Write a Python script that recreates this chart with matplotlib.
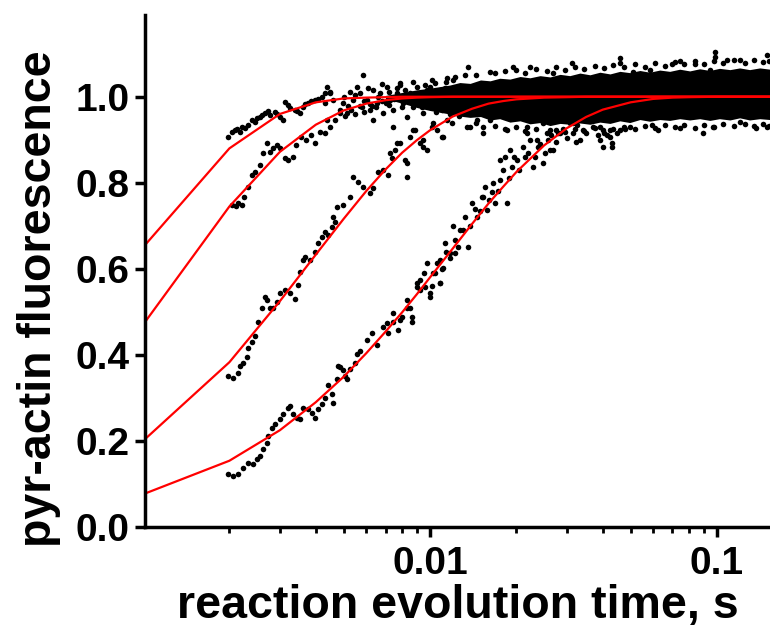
import matplotlib
matplotlib.use("Agg")
import matplotlib.pyplot as plt
import numpy as np
from matplotlib.ticker import LogLocator, NullFormatter

plt.rcParams["font.family"] = ["Liberation Sans", "DejaVu Sans"]
plt.rcParams["font.weight"] = "bold"

# 时间单位：ms；荧光：归一化
trace1_t = [1.98, 2.04, 2.09, 2.12, 2.18, 2.22, 2.27, 2.32, 2.40, 2.46, 2.50, 2.56, 2.60, 2.66, 2.72,
            2.77, 2.88, 2.94, 3.00, 3.07, 3.13, 3.20, 3.25, 3.39, 3.45, 3.52, 3.60, 3.68, 3.75, 3.85,
            3.98, 4.07, 4.20, 4.31, 4.48]
trace1_v = [0.907, 0.918, 0.923, 0.925, 0.918, 0.930, 0.928, 0.935, 0.946, 0.942, 0.950, 0.953, 0.958, 0.963, 0.967,
            0.958, 0.965, 0.960, 0.953, 0.946, 0.988, 0.980, 0.974, 0.970, 0.968, 0.963, 0.977, 0.983, 0.986, 0.990,
            0.993, 0.995, 1.000, 1.009, 1.012]

trace2_t = [2.04, 2.11, 2.15, 2.22, 2.25, 2.32, 2.40, 2.46, 2.56, 2.62, 2.70, 2.77, 2.83, 2.92, 3.00,
            3.13, 3.20, 3.32, 3.42, 3.55, 3.70, 3.85, 3.98, 4.14, 4.31, 4.48, 4.67, 4.86, 5.06, 5.30,
            5.50, 5.70, 5.90, 6.20, 6.50, 6.80, 7.20]
trace2_v = [0.748, 0.745, 0.753, 0.748, 0.767, 0.790, 0.818, 0.825, 0.842, 0.870, 0.893, 0.872, 0.881, 0.888, 0.881,
            0.858, 0.853, 0.860, 0.888, 0.907, 0.900, 0.911, 0.893, 0.918, 0.916, 0.930, 0.946, 0.963, 0.955, 0.970,
            0.960, 0.978, 0.965, 0.983, 0.975, 0.990, 0.980]

trace3_t = [1.98, 2.06, 2.14, 2.18, 2.23, 2.30, 2.32, 2.40, 2.46, 2.52, 2.60, 2.66, 2.70, 2.77, 2.83,
            2.92, 3.00, 3.13, 3.25, 3.39, 3.46, 3.52, 3.61, 3.67, 3.82, 3.98, 4.07, 4.20, 4.31, 4.41,
            4.55, 4.67, 4.59, 4.74, 4.98, 5.26, 5.40, 5.61, 5.84, 6.18, 6.34, 6.59, 6.86, 7.14, 7.37,
            7.55, 7.86, 8.18, 8.31, 8.52, 8.87, 9.23, 9.46, 9.76, 10.16, 10.58, 11.01, 11.46, 11.93, 12.42,
            13.03, 13.79, 14.58, 15.30, 15.79, 7.26, 7.65, 8.31, 8.73, 9.46, 10.24, 11.10]
trace3_v = [0.352, 0.347, 0.359, 0.375, 0.382, 0.394, 0.415, 0.429, 0.445, 0.476, 0.510, 0.534, 0.527, 0.508, 0.508,
            0.522, 0.545, 0.550, 0.543, 0.531, 0.562, 0.592, 0.620, 0.627, 0.620, 0.639, 0.660, 0.674, 0.685, 0.678,
            0.697, 0.709, 0.720, 0.744, 0.748, 0.767, 0.814, 0.802, 0.790, 0.776, 0.788, 0.825, 0.830, 0.818, 0.858,
            0.876, 0.893, 0.853, 0.814, 0.907, 0.923, 0.893, 0.900, 0.876, 0.930, 0.923, 0.907, 0.946, 0.939, 0.963,
            0.970, 0.930, 0.946, 0.930, 0.977, 0.869, 0.893, 0.846, 0.923, 0.883, 0.939, 0.907]

trace4_t = [1.98, 2.06, 2.14, 2.23, 2.32, 2.42, 2.50, 2.56, 2.62, 2.70, 2.73, 2.82, 2.88, 3.00, 3.07,
            3.20, 3.25, 3.33, 3.44, 3.52, 3.61, 3.76, 3.88, 3.98, 4.07, 4.20, 4.31, 4.41, 4.55, 4.59,
            4.74, 4.86, 4.98, 5.14, 5.26, 5.48, 4.78, 5.06, 5.57, 5.70, 6.03, 6.28, 6.54, 6.86, 7.14,
            7.43, 7.74, 7.99, 8.31, 8.52, 8.66, 9.01, 9.23, 9.61, 10.0, 10.24, 10.58, 10.84, 11.10, 11.74,
            12.22, 7.08, 7.43, 7.86, 8.31, 8.66, 9.01, 9.23, 9.76, 10.0, 10.41, 10.84, 11.28, 11.74, 12.22,
            12.72, 13.24, 13.57, 14.01, 14.58, 15.17, 15.79, 16.44, 16.85, 17.54, 18.26, 18.55, 19.30, 20.10, 21.07,
            21.93, 22.84, 23.78, 24.77, 25.79, 26.86, 27.97, 15.30, 17.54, 19.00, 21.70, 23.60, 24.80, 26.20, 28.40,
            30.70, 33.30, 37.00, 40.10, 42.40, 12.00, 12.50, 13.00, 13.80, 14.30, 15.00, 15.50, 16.00, 16.60, 17.20,
            17.90, 18.80, 19.60, 20.50, 21.50, 22.30, 23.20, 24.20, 25.20, 26.50, 27.50, 29.00, 30.00, 31.50, 32.50,
            35.00, 38.50, 45.00, 48.00, 9.50, 10.20, 10.80, 11.40, 11.00]
trace4_v = [0.124, 0.119, 0.124, 0.138, 0.149, 0.147, 0.159, 0.166, 0.182, 0.196, 0.212, 0.231, 0.240, 0.252, 0.263,
            0.277, 0.282, 0.263, 0.254, 0.252, 0.277, 0.275, 0.266, 0.254, 0.275, 0.287, 0.300, 0.329, 0.310, 0.289,
            0.345, 0.371, 0.364, 0.345, 0.368, 0.382, 0.375, 0.352, 0.403, 0.410, 0.434, 0.452, 0.422, 0.464, 0.450,
            0.476, 0.457, 0.487, 0.527, 0.508, 0.476, 0.557, 0.573, 0.557, 0.534, 0.590, 0.613, 0.566, 0.601, 0.625,
            0.636, 0.473, 0.497, 0.480, 0.510, 0.487, 0.566, 0.550, 0.613, 0.543, 0.590, 0.566, 0.660, 0.636, 0.667,
            0.690, 0.720, 0.650, 0.753, 0.720, 0.767, 0.737, 0.779, 0.753, 0.807, 0.860, 0.753, 0.837, 0.853, 0.883,
            0.869, 0.837, 0.883, 0.846, 0.900, 0.876, 0.916, 0.767, 0.853, 0.876, 0.916, 0.900, 0.939, 0.876, 0.916,
            0.939, 0.900, 0.930, 0.883, 0.923, 0.700, 0.650, 0.690, 0.700, 0.740, 0.735, 0.790, 0.760, 0.800, 0.780,
            0.830, 0.810, 0.860, 0.830, 0.860, 0.900, 0.860, 0.890, 0.870, 0.910, 0.895, 0.925, 0.905, 0.915, 0.935,
            0.915, 0.910, 0.915, 0.925, 0.590, 0.560, 0.620, 0.640, 0.600]

# 平台区散点（四条曲线汇合后）
plateau_t = [4.38, 4.48, 4.31, 4.59, 4.86, 4.98, 5.26, 5.40, 5.57, 5.70, 5.84, 5.78, 6.03, 6.18, 6.34,
             6.54, 6.70, 6.86, 7.08, 7.26, 7.43, 7.65, 7.86, 8.05, 8.31, 8.52, 8.73, 9.01, 9.23, 9.46,
             9.76, 10.0, 10.41, 10.66, 11.0, 11.28, 11.55, 12.0, 12.4, 12.72, 13.6, 13.5, 4.38, 5.14, 6.34,
             7.43, 12.72, 13.5, 15.3, 16.2, 18.5, 20.1, 21.7, 24.8, 26.2, 28.4, 31.4, 34.1, 39.1, 42.4,
             45.9, 49.7, 7.86, 10.0, 11.46, 16.2, 19.4, 22.3, 26.8, 31.2, 45.9, 45.9, 51.0, 58.3, 69.6,
             74.2, 83.6, 94.5, 98.5, 98.5, 108.0, 120.0, 149.0, 32.3, 39.1, 40.1, 41.4, 43.1, 43.1, 59.6,
             62.1, 74.2, 89.3, 96.8, 120.0, 137.0, 149.0,
             5.0, 5.2, 5.5, 5.9, 6.1, 6.3, 6.6, 6.8, 7.0, 7.2, 7.5, 7.7, 8.0, 8.2, 8.4,
             8.7, 8.9, 9.1, 9.4, 9.6, 9.9, 10.2, 10.5, 10.8, 11.1, 11.4, 11.7, 12.2, 12.6, 13.2]
plateau_v = [1.023, 1.009, 0.986, 0.993, 0.970, 0.986, 1.012, 0.993, 1.023, 1.009, 1.051, 0.977, 0.993, 0.970, 1.016,
             0.986, 1.009, 0.963, 1.023, 0.993, 0.970, 1.009, 1.028, 0.986, 0.953, 1.009, 0.977, 1.023, 0.993, 0.963,
             1.016, 0.977, 1.033, 1.000, 0.970, 1.021, 0.988, 1.040, 1.009, 0.977, 1.068, 0.993, 0.946, 0.963, 0.946,
             0.930, 0.963, 0.930, 0.916, 0.946, 0.923, 0.953, 0.930, 0.942, 0.923, 0.953, 0.939, 0.923, 0.930, 0.907,
             0.923, 0.930, 1.033, 1.023, 1.044, 1.058, 1.070, 1.070, 1.056, 1.079, 1.079, 1.091, 1.058, 1.063, 1.075,
             1.082, 1.075, 1.063, 1.103, 1.093, 1.086, 1.086, 1.098, 0.895, 0.900, 0.923, 0.911, 0.893, 0.883, 0.935,
             0.923, 0.928, 0.916, 0.930, 0.942, 0.928, 0.930,
             1.000, 0.978, 1.003, 0.990, 1.020, 0.978, 1.000, 1.030, 0.985, 1.010, 0.995, 1.020, 0.975, 1.015, 0.995,
             1.035, 0.985, 1.005, 0.975, 1.028, 0.995, 1.040, 0.965, 1.015, 0.985, 1.035, 0.960, 1.045, 0.955, 1.050]

# 噪声带边缘散点
edge_t = [14.5, 16.8, 18.2, 20.0, 21.5, 23.5, 25.5, 27.5, 29.5, 32.0, 34.5, 37.5, 40.5, 43.5, 47.5,
          52.0, 56.0, 61.0, 66.0, 71.5, 77.0, 84.0, 90.5, 98.0, 105.0, 115.0, 125.0, 135.0, 145.0, 152.0]
edge_hi = [1.050, 1.055, 1.060, 1.062, 1.055, 1.065, 1.060, 1.068, 1.062, 1.070, 1.065, 1.072, 1.066, 1.074, 1.070,
           1.076, 1.070, 1.078, 1.072, 1.080, 1.075, 1.082, 1.076, 1.084, 1.078, 1.085, 1.079, 1.086, 1.080, 1.083]
edge_lo = [0.940, 0.932, 0.925, 0.930, 0.920, 0.926, 0.915, 0.922, 0.918, 0.925, 0.920, 0.928, 0.915, 0.925, 0.930,
           0.925, 0.933, 0.928, 0.935, 0.930, 0.934, 0.928, 0.935, 0.930, 0.936, 0.932, 0.937, 0.931, 0.936, 0.933]

# 平台区密集噪声带的上下包络
band_t = [7.0, 8.0, 9.0, 10.0, 11.7, 12.7, 13.8, 15.0, 16.2, 17.5, 19.0, 20.6, 22.3, 24.2, 26.2,
          28.4, 30.7, 33.3, 36.1, 39.1, 42.4, 45.9, 49.7, 53.9, 58.3, 63.2, 68.5, 74.2, 80.4, 87.1,
          94.5, 102.0, 111.0, 120.0, 130.0, 141.0, 153.0]
band_hi = [1.003, 1.010, 1.016, 1.020, 1.027, 1.033, 1.031, 1.039, 1.037, 1.043, 1.041, 1.047, 1.044, 1.049, 1.046,
           1.052, 1.049, 1.055, 1.051, 1.057, 1.053, 1.059, 1.056, 1.061, 1.057, 1.062, 1.059, 1.064, 1.060, 1.065,
           1.061, 1.066, 1.063, 1.067, 1.063, 1.067, 1.064]
band_lo = [0.995, 0.985, 0.975, 0.968, 0.960, 0.955, 0.952, 0.954, 0.946, 0.949, 0.941, 0.944, 0.937, 0.940, 0.933,
           0.938, 0.936, 0.939, 0.936, 0.941, 0.938, 0.944, 0.940, 0.947, 0.943, 0.947, 0.945, 0.949, 0.946, 0.949,
           0.945, 0.949, 0.946, 0.951, 0.946, 0.949, 0.947]

# 单指数拟合曲线（按 1 ms 间隔取值）
fit_t = [1, 2, 3, 4, 5, 6, 7, 8, 9, 10, 12, 14, 16, 18, 20, 25, 30, 35, 40, 50, 60, 70, 80, 100, 150, 160]
fit1_v = [0.650, 0.880, 0.960, 0.987, 0.996, 0.998, 0.999, 1.0, 1.0, 1.0, 1.0, 1.0, 1.0, 1.0, 1.0,
          1.0, 1.0, 1.0, 1.0, 1.0, 1.0, 1.0, 1.0, 1.0, 1.0, 1.0]
fit2_v = [0.470, 0.745, 0.872, 0.935, 0.968, 0.984, 0.992, 0.996, 0.998, 0.999, 1.0, 1.0, 1.0, 1.0, 1.0,
          1.0, 1.0, 1.0, 1.0, 1.0, 1.0, 1.0, 1.0, 1.0, 1.0, 1.0]
fit3_v = [0.200, 0.383, 0.525, 0.633, 0.716, 0.781, 0.831, 0.870, 0.899, 0.922, 0.954, 0.972, 0.984, 0.990, 0.994,
          0.998, 0.999, 1.0, 1.0, 1.0, 1.0, 1.0, 1.0, 1.0, 1.0, 1.0]
fit4_v = [0.076, 0.154, 0.225, 0.290, 0.349, 0.404, 0.454, 0.499, 0.541, 0.580, 0.647, 0.704, 0.752, 0.791, 0.825,
          0.887, 0.927, 0.953, 0.970, 0.987, 0.995, 0.998, 0.999, 1.0, 1.0, 1.0]

fig = plt.figure(figsize=(7.7, 6.3), dpi=100)
ax = fig.add_axes([0.1883, 0.1635, 0.8117, 0.8127])

ms = 1e-3
ax.fill_between(np.array(band_t) * ms, band_lo, band_hi, color="black", lw=0)
for tt, vv in [(trace1_t, trace1_v), (trace2_t, trace2_v), (trace3_t, trace3_v),
               (trace4_t, trace4_v), (plateau_t, plateau_v), (edge_t, edge_hi), (edge_t, edge_lo)]:
    ax.plot(np.array(tt) * ms, vv, ls="none", marker="o", ms=4.0, mfc="black", mec="black", mew=0)

for fv in [fit1_v, fit2_v, fit3_v, fit4_v]:
    ax.plot(np.array(fit_t) * ms, fv, color="red", lw=1.6)

ax.set_xscale("log")
ax.set_xlim(1.016e-3, 0.1531)
ax.set_ylim(0, 1.19)
ax.set_xticks([0.01, 0.1])
ax.set_xticklabels(["0.01", "0.1"])
ax.xaxis.set_minor_locator(LogLocator(base=10, subs=range(2, 10)))
ax.xaxis.set_minor_formatter(NullFormatter())
ax.set_yticks([0.0, 0.2, 0.4, 0.6, 0.8, 1.0])
ax.set_yticklabels(["0.0", "0.2", "0.4", "0.6", "0.8", "1.0"])

ax.tick_params(which="major", direction="out", length=7, width=2.5, labelsize=28)
ax.tick_params(axis="x", which="major", pad=7)
ax.tick_params(axis="y", which="major", pad=4)
ax.tick_params(which="minor", direction="out", length=4, width=2)
for side in ["top", "right"]:
    ax.spines[side].set_visible(False)
for side in ["left", "bottom"]:
    ax.spines[side].set_linewidth(2.5)

ax.set_xlabel("reaction evolution time, s", fontsize=33.5, fontweight="bold", va="baseline")
ax.set_ylabel("pyr-actin fluorescence", fontsize=33.5, fontweight="bold")
ax.xaxis.set_label_coords(0.5, -0.178)
ax.yaxis.set_label_coords(-0.135, 0.445)

fig.savefig("out.png", dpi=100)
